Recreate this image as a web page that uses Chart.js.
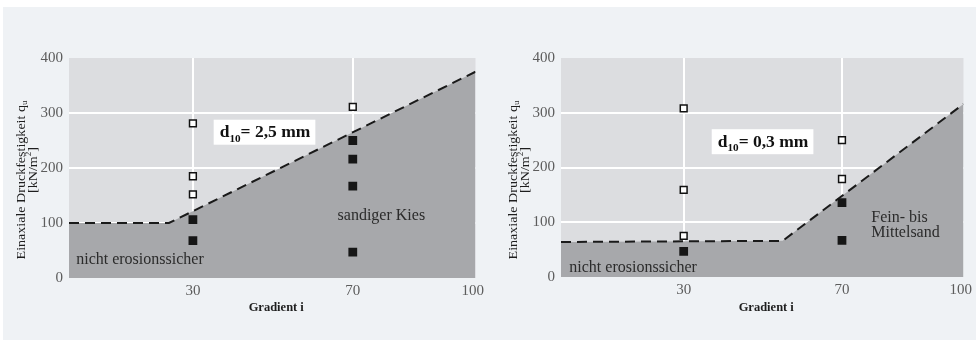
<!DOCTYPE html>
<html lang="de">
<head>
<meta charset="utf-8">
<title>Erosionssicherheit – einaxiale Druckfestigkeit über Gradient</title>
<script src="https://cdn.jsdelivr.net/npm/chart.js@4.4.1/dist/chart.umd.min.js"></script>
<style>
html,body{margin:0;padding:0;background:#fff;}
body{width:976px;height:340px;position:relative;overflow:hidden;}
#panel{position:absolute;left:3px;top:7px;right:0;bottom:0;background:#eff2f5;}
canvas{position:absolute;top:0;}
#kies{left:0;}
#sand{left:488px;}
</style>
</head>
<body>
<div id="panel"></div>
<canvas id="kies" width="488" height="340"></canvas>
<canvas id="sand" width="488" height="340"></canvas>
<script>
// Gradient axis (x) bounds and tick labels, strength axis (y) tick labels
const GRADIENT_MIN = -1;
const GRADIENT_MAX = 100.7;
const gradientTicks = [30, 70, 100];
const strengthTicks = [0, 100, 200, 300, 400];

// d10 = 2,5 mm – sandiger Kies
const kiesStableI = [30, 30, 30, 70];
const kiesStableQ = [281, 185, 152, 311];
const kiesErodedI = [30, 30, 70, 70, 70, 70];
const kiesErodedQ = [106, 68, 250, 216, 167, 47];
const kiesLimitI = [GRADIENT_MIN, 24, GRADIENT_MAX];
const kiesLimitQ = [100, 100, 375];

// d10 = 0,3 mm – Fein- bis Mittelsand
const sandStableI = [30, 30, 30, 70, 70];
const sandStableQ = [308, 159, 75, 250, 179];
const sandErodedI = [30, 70, 70];
const sandErodedQ = [47, 136, 67];
const sandLimitI = [GRADIENT_MIN, 55, GRADIENT_MAX];
const sandLimitQ = [64, 66, 316];

const SERIF = '"Liberation Serif", "DejaVu Serif", serif';
const PLOT_BG = '#dcdde0';
const ERODED_BG = '#a7a8ab';

const pts = (xs, ys) => xs.map((x, k) => ({ x: x, y: ys[k] }));

// draws a run of text parts, with sub-/superscripts, starting at (x, y)
function drawRich(ctx, parts, x, y, size, weight) {
  let cx = x;
  for (const p of parts) {
    const small = p.sub || p.sup;
    const s = small ? size * 0.64 : size;
    ctx.font = `${weight} ${s}px ${SERIF}`;
    const dy = p.sub ? size * 0.26 : (p.sup ? -size * 0.36 : 0);
    ctx.fillText(p.t, cx, y + dy);
    cx += ctx.measureText(p.t).width;
  }
  return cx - x;
}
function richWidth(ctx, parts, size, weight) {
  let w = 0;
  for (const p of parts) {
    const s = (p.sub || p.sup) ? size * 0.64 : size;
    ctx.font = `${weight} ${s}px ${SERIF}`;
    w += ctx.measureText(p.t).width;
  }
  return w;
}

const yTitle1 = [{ t: 'Einaxiale Druckfestigkeit q' }, { t: 'u', sub: true }];
const yTitle2 = [{ t: '[kN/m' }, { t: '2', sup: true }, { t: ']' }];
const TITLE_STRETCH = 1.17;

const decorPlugin = {
  id: 'decor',
  beforeDraw(chart) {
    const { ctx, chartArea: a } = chart;
    ctx.save();
    ctx.fillStyle = PLOT_BG;
    ctx.fillRect(a.left, a.top, a.right - a.left, a.bottom - a.top);
    ctx.restore();
  },
  afterDraw(chart, args, opts) {
    const { ctx, chartArea: a, scales } = chart;
    const X = v => scales.x.getPixelForValue(v);
    const Y = v => scales.y.getPixelForValue(v);
    ctx.save();
    ctx.textBaseline = 'alphabetic';
    ctx.textAlign = 'left';

    // boxed d10 label
    const b = opts.box;
    const bw = richWidth(ctx, b.parts, 17.5, 'bold');
    const bx = X(b.i), by = Y(b.q);
    ctx.fillStyle = '#ffffff';
    ctx.fillRect(bx - 6, by - 17.5, bw + 11, 25);
    ctx.fillStyle = '#111111';
    drawRich(ctx, b.parts, bx, by, 17.5, 'bold');

    // region labels
    ctx.fillStyle = '#2b2b2b';
    ctx.font = `16px ${SERIF}`;
    for (const l of opts.labels) ctx.fillText(l.text, X(l.i), Y(l.q));

    // y axis title (two rotated lines)
    ctx.fillStyle = '#1e1e1e';
    ctx.textBaseline = 'middle';
    const lines = [[yTitle1, a.left - 47, 180], [yTitle2, a.left - 35.5, 170]];
    for (const [parts, cx, cy] of lines) {
      const w = richWidth(ctx, parts, 12, 'normal');
      ctx.save();
      ctx.translate(cx, cy);
      ctx.rotate(-Math.PI / 2);
      ctx.scale(TITLE_STRETCH, 1);
      drawRich(ctx, parts, -w / 2, 0, 12, 'normal');
      ctx.restore();
    }

    // x axis title
    ctx.font = `bold 12.5px ${SERIF}`;
    ctx.textAlign = 'center';
    ctx.textBaseline = 'alphabetic';
    ctx.fillText('Gradient i', (a.left + a.right) / 2 + 4, 311);
    ctx.restore();
  }
};

function makeChart(id, set, pad) {
  return new Chart(document.getElementById(id), {
    type: 'scatter',
    data: {
      datasets: [
        {
          type: 'line',
          data: pts(set.limitI, set.limitQ),
          borderColor: '#1a1a1a',
          borderWidth: 2,
          borderDash: [10, 6],
          fill: 'origin',
          backgroundColor: ERODED_BG,
          pointRadius: 0,
          tension: 0,
          order: 3
        },
        {
          data: pts(set.stableI, set.stableQ),
          pointStyle: 'rect',
          pointRadius: 4.8,
          backgroundColor: '#ffffff',
          borderColor: '#111111',
          borderWidth: 1.5,
          order: 1
        },
        {
          data: pts(set.erodedI, set.erodedQ),
          pointStyle: 'rect',
          pointRadius: 6.2,
          backgroundColor: '#161616',
          borderWidth: 0,
          order: 1
        }
      ]
    },
    options: {
      responsive: false,
      animation: false,
      events: [],
      layout: { padding: { top: 58, right: pad.right, left: 0, bottom: 0 } },
      plugins: {
        legend: { display: false },
        tooltip: { enabled: false },
        decor: { box: set.box, labels: set.labels }
      },
      scales: {
        x: {
          type: 'linear',
          min: GRADIENT_MIN,
          max: GRADIENT_MAX,
          afterBuildTicks: s => { s.ticks = gradientTicks.map(v => ({ value: v })); },
          afterFit: s => { s.height = pad.xHeight; },
          border: { display: false },
          grid: {
            drawTicks: false,
            lineWidth: 2,
            color: c => (c.tick && c.tick.value === 100 ? 'rgba(0,0,0,0)' : '#ffffff')
          },
          ticks: {
            padding: 4,
            color: '#5c5c5c',
            font: { family: SERIF, size: 15 },
            maxRotation: 0,
            callback: v => String(v)
          }
        },
        y: {
          type: 'linear',
          min: strengthTicks[0],
          max: strengthTicks[strengthTicks.length - 1],
          afterBuildTicks: s => { s.ticks = strengthTicks.map(v => ({ value: v })); },
          afterFit: s => { s.width = pad.yWidth; },
          border: { display: false },
          grid: {
            drawTicks: false,
            lineWidth: 2,
            color: c => (c.tick && (c.tick.value === 0 || c.tick.value === 400) ? 'rgba(0,0,0,0)' : '#ffffff')
          },
          ticks: {
            padding: 6,
            color: '#5c5c5c',
            font: { family: SERIF, size: 15 },
            callback: v => String(v)
          }
        }
      }
    },
    plugins: [decorPlugin]
  });
}

makeChart('kies', {
  limitI: kiesLimitI, limitQ: kiesLimitQ,
  stableI: kiesStableI, stableQ: kiesStableQ,
  erodedI: kiesErodedI, erodedQ: kiesErodedQ,
  box: { i: 36.7, q: 256, parts: [{ t: 'd' }, { t: '10', sub: true }, { t: '= 2,5 mm' }] },
  labels: [
    { i: 66.2, q: 105, text: 'sandiger Kies' },
    { i: 0.8, q: 26, text: 'nicht erosionssicher' }
  ]
}, { right: 9, yWidth: 69, xHeight: 62 });

makeChart('sand', {
  limitI: sandLimitI, limitQ: sandLimitQ,
  stableI: sandStableI, stableQ: sandStableQ,
  erodedI: sandErodedI, erodedQ: sandErodedQ,
  box: { i: 38.6, q: 238, parts: [{ t: 'd' }, { t: '10', sub: true }, { t: '= 0,3 mm' }] },
  labels: [
    { i: 77.4, q: 101, text: 'Fein- bis' },
    { i: 77.4, q: 73, text: 'Mittelsand' },
    { i: 1.1, q: 10, text: 'nicht erosionssicher' }
  ]
}, { right: 6, yWidth: 73, xHeight: 63 });
</script>
</body>
</html>
